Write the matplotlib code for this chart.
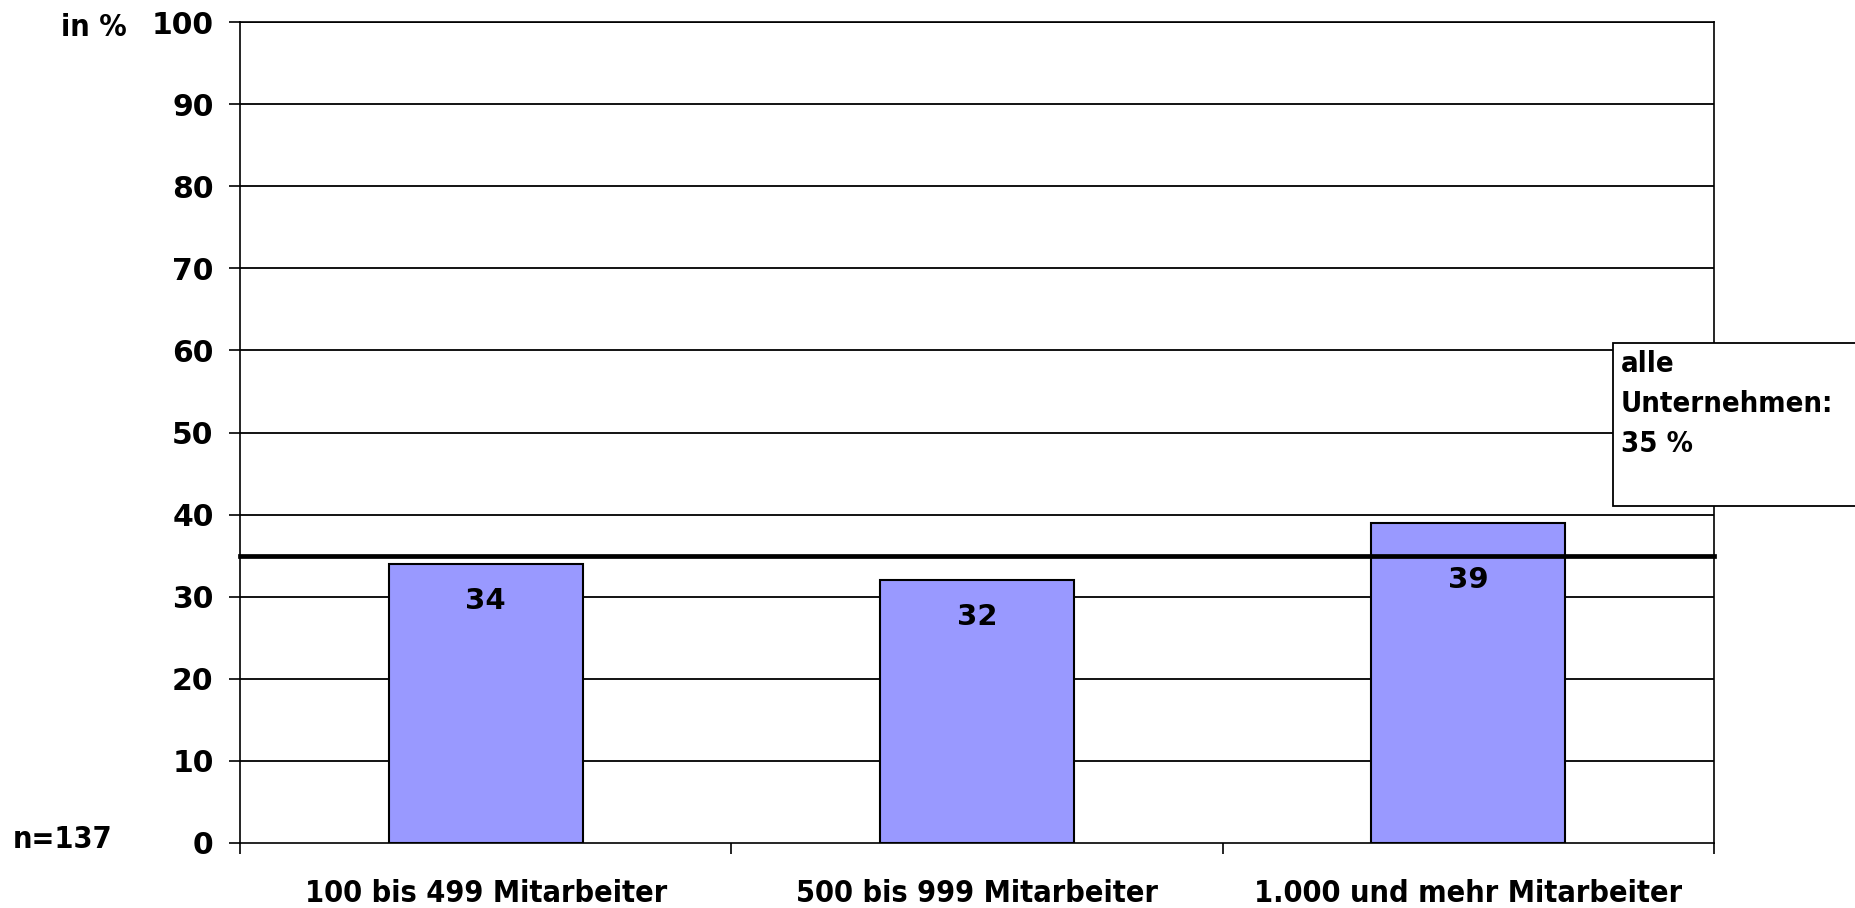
import matplotlib
matplotlib.use("Agg")
import matplotlib.pyplot as plt
from matplotlib.patches import Rectangle

# Data
categories = ["100 bis 499 Mitarbeiter", "500 bis 999 Mitarbeiter", "1.000 und mehr Mitarbeiter"]
values = [34, 32, 39]
overall_value = 35
overall_label = "alle\nUnternehmen:\n35 %"
y_ticks = [0, 10, 20, 30, 40, 50, 60, 70, 80, 90, 100]
sample_label = "n=137"
unit_label = "in %"

TEXT_FONT = dict(family="DejaVu Sans", stretch="condensed", weight="bold")
NUM_FONT = dict(family="DejaVu Sans", weight="bold")

W, H = 1856, 908
fig = plt.figure(figsize=(W / 100, H / 100), dpi=100)
fig.patch.set_facecolor("white")

ax = fig.add_axes([240 / W, 1 - 843 / H, (1714 - 240) / W, (843 - 22) / H])
x = list(range(len(categories)))

ax.set_ylim(0, 100)
ax.set_xlim(-0.5, len(categories) - 0.5)

# horizontal grid
for t in y_ticks[1:]:
    ax.axhline(t, color="black", lw=1.3, zorder=1)

ax.bar(x, values, width=0.395, color="#9999FF", edgecolor="black", linewidth=1.5, zorder=2)

# average line across all companies
ax.axhline(overall_value, color="black", lw=3.4, zorder=4, clip_on=False)

# value labels inside the bars, kept below the average line
for xi, v in zip(x, values):
    y_lab = min(v - 4.5, overall_value - 3.0)
    ax.text(xi, y_lab, str(v), ha="center", va="center", fontsize=21, zorder=5, **NUM_FONT)

# y axis
ax.set_yticks(y_ticks)
ax.set_yticklabels([str(t) for t in y_ticks], fontsize=21.5, **NUM_FONT)
ax.tick_params(axis="y", direction="out", length=8, width=1.2, pad=11, colors="black")

# x axis: labels at category centres, tick marks at boundaries
ax.set_xticks(x)
ax.set_xticklabels(categories, fontsize=22, **TEXT_FONT)
ax.set_xticks([i - 0.5 for i in range(len(categories) + 1)], minor=True)
ax.tick_params(axis="x", which="major", length=0, pad=26)
ax.tick_params(axis="x", which="minor", direction="out", length=8, width=1.2)

for s in ax.spines.values():
    s.set_color("black")
    s.set_linewidth(1.2)

# annotation box on the right
fig.add_artist(Rectangle((1613 / W, 1 - 506 / H), 0.2, (506 - 343) / H,
                         transform=fig.transFigure, facecolor="white",
                         edgecolor="black", linewidth=1.3, zorder=10, clip_on=False))
fig.text(1621 / W, 1 - 350 / H, overall_label, ha="left", va="top", fontsize=21,
         linespacing=1.55, zorder=11, **TEXT_FONT)

fig.text(127 / W, 1 - 27 / H, unit_label, ha="right", va="center", fontsize=22, **TEXT_FONT)
fig.text(13 / W, 1 - 840 / H, sample_label, ha="left", va="center", fontsize=22, **TEXT_FONT)

fig.savefig("out.png", dpi=100, facecolor="white")
